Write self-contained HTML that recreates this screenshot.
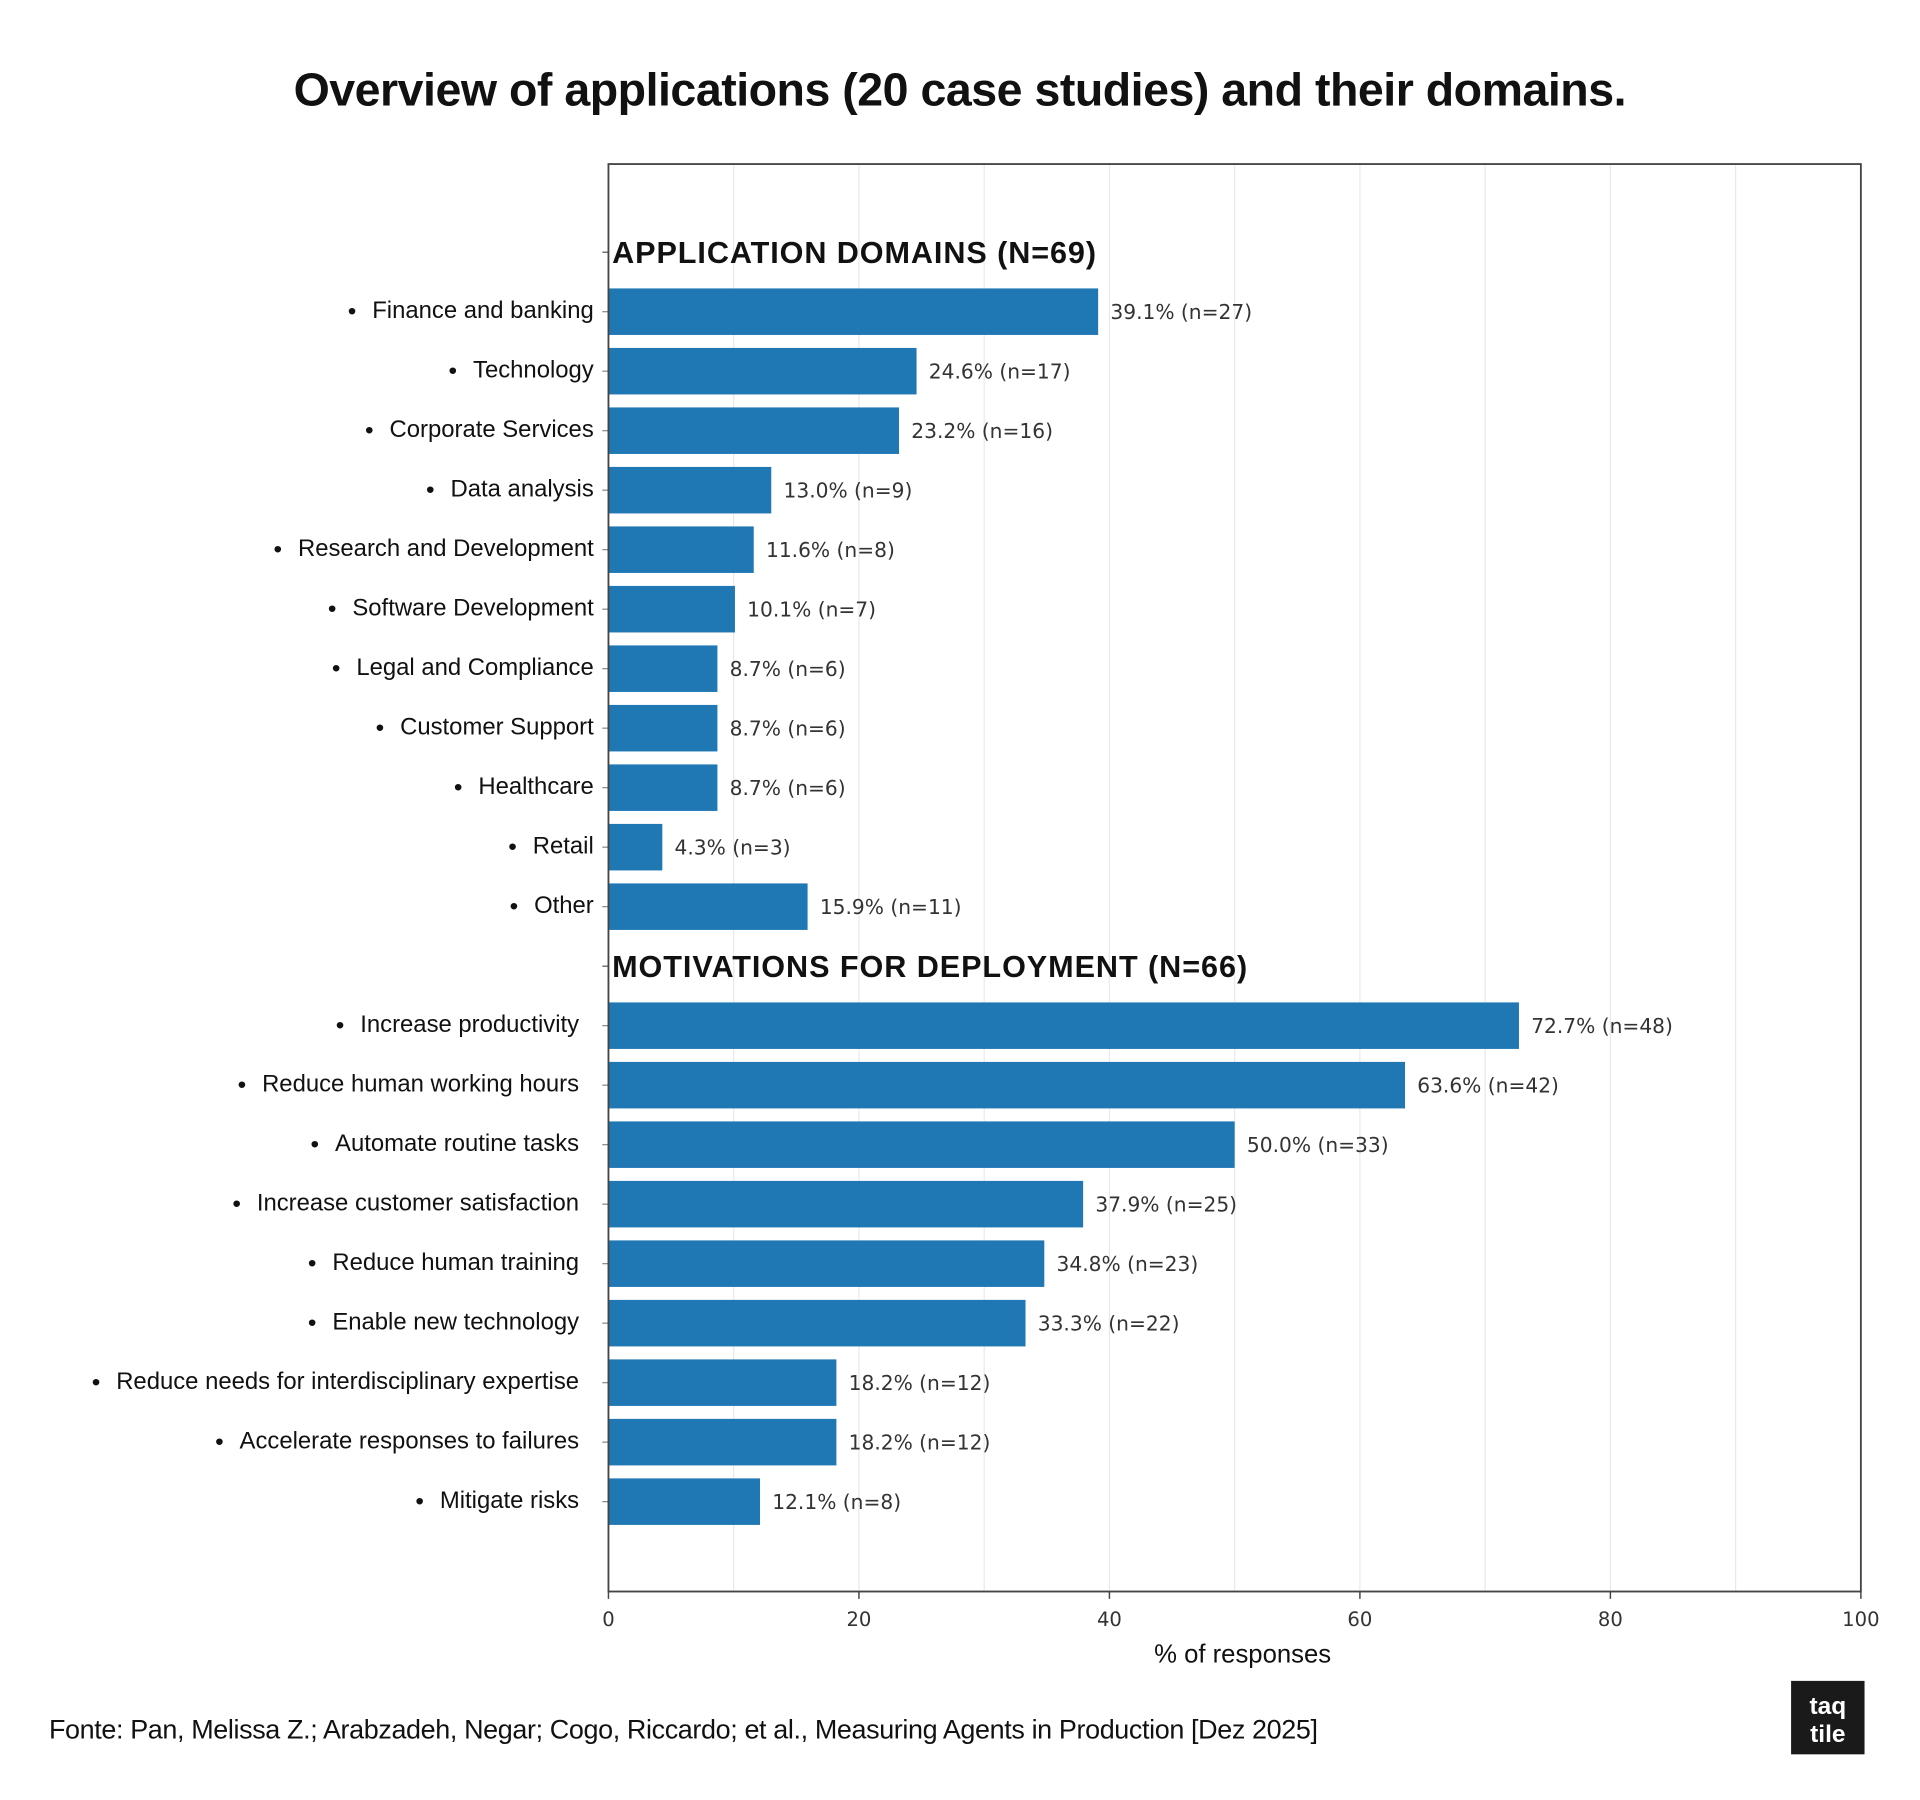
<!DOCTYPE html>
<html><head><meta charset="utf-8"><style>
html,body{margin:0;padding:0;background:#fff;}
svg{display:block;}
</style></head><body>
<svg id="chart" width="1920" height="1800" viewBox="0 0 1568.3 1470.3" preserveAspectRatio="none" xmlns="http://www.w3.org/2000/svg">
<rect x="0" y="0" width="1568.3" height="1470.3" fill="#fff"/>
<text x="784" y="86" text-anchor="middle" font-family="Liberation Sans, sans-serif" font-size="38" font-weight="bold" fill="#111" letter-spacing="-0.4">Overview of applications (20 case studies) and their domains.</text>
<g id="grid"></g>
<g id="bars"></g>
<g id="labels"></g>
<rect x="497" y="134" width="1023" height="1166" fill="none" stroke="#444" stroke-width="1.5"/>
<g id="xaxis"></g>
<text x="1015" y="1358" text-anchor="middle" font-family="Liberation Sans, sans-serif" font-size="21" fill="#111">% of responses</text>
<text x="40" y="1420" font-family="Liberation Sans, sans-serif" font-size="22" fill="#111" letter-spacing="-0.3">Fonte: Pan, Melissa Z.; Arabzadeh, Negar; Cogo, Riccardo; et al., Measuring Agents in Production [Dez 2025]</text>
<g>
<rect x="1463" y="1373" width="60" height="60" fill="#1a1a1a"/>
<text x="1493" y="1400" text-anchor="middle" font-family="Liberation Sans, sans-serif" font-size="20" font-weight="bold" fill="#fff">taq</text>
<text x="1493" y="1423" text-anchor="middle" font-family="Liberation Sans, sans-serif" font-size="20" font-weight="bold" fill="#fff">tile</text>
</g>
</svg>
<script>
const domainCats = ["Finance and banking","Technology","Corporate Services","Data analysis","Research and Development","Software Development","Legal and Compliance","Customer Support","Healthcare","Retail","Other"];
const domainVals = [39.1,24.6,23.2,13.0,11.6,10.1,8.7,8.7,8.7,4.3,15.9];
const domainN = [27,17,16,9,8,7,6,6,6,3,11];
const motivCats = ["Increase productivity","Reduce human working hours","Automate routine tasks","Increase customer satisfaction","Reduce human training","Enable new technology","Reduce needs for interdisciplinary expertise","Accelerate responses to failures","Mitigate risks"];
const motivVals = [72.7,63.6,50.0,37.9,34.8,33.3,18.2,18.2,12.1];
const motivN = [48,42,33,25,23,22,12,12,8];
const headers = ["APPLICATION DOMAINS (N=69)","MOTIVATIONS FOR DEPLOYMENT (N=66)"];
const xTicks = [0,20,40,60,80,100];

const NS="http://www.w3.org/2000/svg";
const X0=497,X1=1520;
function xs(v){return X0+(v/100)*(X1-X0);}
function ys(slot){return 206+slot*48.6;}
function mk(tag,attrs,parent){const e=document.createElementNS(NS,tag);for(const k in attrs)e.setAttribute(k,attrs[k]);parent.appendChild(e);return e;}
const grid=document.getElementById('grid'),bars=document.getElementById('bars'),labels=document.getElementById('labels'),xaxis=document.getElementById('xaxis');
for(let v=10;v<100;v+=10){
  const l=mk('line',{x1:xs(v),x2:xs(v),y1:134,y2:1300,stroke:'#e6e9ee','stroke-width':1},grid);
  
  
}
xTicks.forEach(t=>{
  const tk=mk('line',{x1:xs(t),x2:xs(t),y1:1300,y2:1306,stroke:'#444','stroke-width':1.2},xaxis);
  
  
  const tl=mk('text',{x:xs(t),y:1328,'text-anchor':'middle','font-family':'DejaVu Sans, sans-serif','font-size':16,fill:'#333'},xaxis);
  tl.textContent=t;
  
  
});
function header(txt,slot){
  const t=mk('text',{x:500,y:ys(slot)+9,'font-family':'Liberation Sans, sans-serif','font-size':25,'font-weight':'bold',fill:'#111'},labels);
  t.textContent=txt;
  
  
  const w=t.getComputedTextLength();
  t.setAttribute('textLength', (w*1.05).toFixed(1));
  mk('line',{x1:492,x2:497,y1:ys(slot),y2:ys(slot),stroke:'#555'},labels);
}
function group(cats,vals,ns,startSlot,labelRight){
  cats.forEach((c,i)=>{
    const y=ys(startSlot+i);
    const r=mk('rect',{x:X0,y:y-19,width:xs(vals[i])-X0,height:38,fill:'#1f77b4'},bars);
    
    
    const v=mk('text',{x:xs(vals[i])+10,y:y+6,'font-family':'DejaVu Sans, sans-serif','font-size':16.5,fill:'#333'},labels);
    v.textContent=vals[i].toFixed(1)+'% (n='+ns[i]+')';
    
    
    const l=mk('text',{x:labelRight,y:y+5,'text-anchor':'end','font-family':'Liberation Sans, sans-serif','font-size':19.5,fill:'#111'},labels);
    l.textContent=c;
    
    
    const w=l.getComputedTextLength();
    const b=mk('text',{x:labelRight-w-20,y:y+6,'font-family':'Liberation Sans, sans-serif','font-size':20,fill:'#111'},labels);
    b.textContent='•';
    
    
    mk('line',{x1:492,x2:497,y1:y,y2:y,stroke:'#888'},labels);
  });
}
header(headers[0],0);
group(domainCats,domainVals,domainN,1,485);
header(headers[1],domainCats.length+1);
group(motivCats,motivVals,motivN,domainCats.length+2,473);
</script>
</body></html>
